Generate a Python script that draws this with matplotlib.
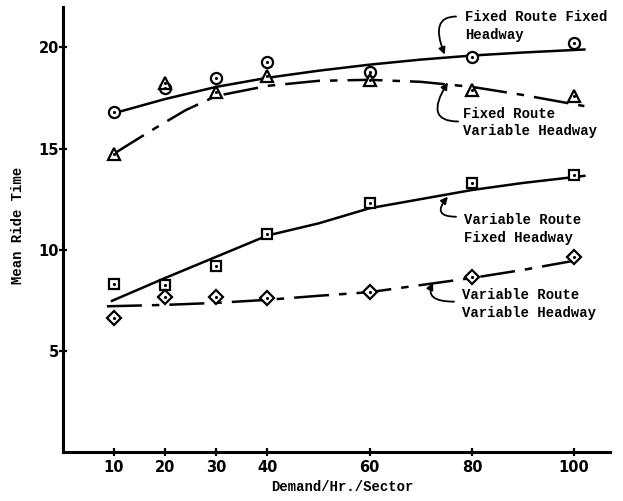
import matplotlib.pyplot as plt

# measured points
demand = [10, 20, 30, 40, 60, 80, 100]
frfh_pts = [16.8, 18.0, 18.5, 19.3, 18.8, 19.55, 20.2]
frvh_pts = [14.75, 18.25, 17.8, 18.6, 18.4, 17.9, 17.6]
vrfh_pts = [8.3, 8.27, 9.2, 10.8, 12.3, 13.3, 13.7]
vrvh_pts = [6.63, 7.67, 7.67, 7.6, 7.9, 8.65, 9.65]

# hand-drawn fitted curves
frfh_x = [10, 20, 30, 40, 50, 60, 70, 80, 90, 102]
frfh_y = [16.75, 17.45, 18.05, 18.5, 18.85, 19.15, 19.4, 19.6, 19.75, 19.9]
frvh_x = [10, 17, 24, 30, 40, 50, 60, 70, 80, 90, 102]
frvh_y = [14.75, 15.85, 16.9, 17.6, 18.1, 18.35, 18.4, 18.3, 18.05, 17.65, 17.1]
vrfh_x = [9.6, 20, 30, 40, 50, 60, 70, 80, 90, 102]
vrfh_y = [7.47, 8.6, 9.65, 10.7, 11.3, 12.05, 12.5, 12.95, 13.3, 13.65]
vrvh_x = [8.6, 20, 30, 40, 50, 60, 70, 80, 90, 101]
vrvh_y = [7.2, 7.27, 7.37, 7.52, 7.72, 7.9, 8.25, 8.6, 9.0, 9.5]

# curve labels: text, text anchor (left/center), arrow tail, arrow tip, tip-line angle
curve_labels = [
    ("Fixed Route Fixed\nHeadway", (78.6, 21.06), (76.9, 21.53), (74.7, 19.65), -68),
    ("Fixed Route\nVariable Headway", (78.2, 16.29), (77.3, 16.34), (75.3, 18.27), 58),
    ("Variable Route\nFixed Headway", (78.4, 11.04), (76.9, 11.63), (75.3, 12.62), 50),
    ("Variable Route\nVariable Headway", (78.0, 7.33), (76.5, 7.43), (72.4, 8.37), 65),
]

x_ticks = [10, 20, 30, 40, 60, 80, 100]
y_ticks = [5, 10, 15, 20]

FONT = "Liberation Mono"

fig = plt.figure(figsize=(6.23, 5.01), dpi=100)
ax = fig.add_axes([0.101, 0.098, 0.878, 0.888])

dashdot = (0, (14, 4, 3, 4))
ax.plot(frfh_x, frfh_y, color="black", lw=1.8)
ax.plot(frvh_x, frvh_y, color="black", lw=1.8, linestyle=dashdot)
ax.plot(vrfh_x, vrfh_y, color="black", lw=1.8)
ax.plot(vrvh_x, vrvh_y, color="black", lw=1.8, linestyle=dashdot)

for vals, mk, ms in [
    (frfh_pts, "o", 8),
    (frvh_pts, "^", 9),
    (vrfh_pts, "s", 7.5),
    (vrvh_pts, "D", 7.5),
]:
    ax.plot(demand, vals, linestyle="none", marker=mk, markersize=ms,
            markerfacecolor="white", markeredgecolor="black", markeredgewidth=1.6, zorder=3)
    ax.plot(demand, vals, linestyle="none", marker=".", markersize=2.5,
            color="black", zorder=4)

for text, pos, tail, tip, ang in curve_labels:
    ax.text(pos[0], pos[1], text, fontsize=10, fontweight="bold", family=FONT,
            ha="left", va="center", linespacing=1.35)
    ax.annotate("", xy=tip, xytext=tail,
                arrowprops=dict(arrowstyle="-|>", color="black", lw=1.3,
                                mutation_scale=10, shrinkA=0, shrinkB=0,
                                connectionstyle=f"angle3,angleA=180,angleB={ang}"))

ax.set_xlim(0, 107)
ax.set_ylim(0, 22)
ax.set_xticks(x_ticks)
ax.set_yticks(y_ticks)
ax.tick_params(direction="inout", length=6, width=1.6, labelsize=10.5)
ax.tick_params(axis="y", pad=0)
ax.tick_params(axis="x", pad=3)
for lab in ax.get_xticklabels() + ax.get_yticklabels():
    lab.set_fontweight("bold")

for side in ("top", "right"):
    ax.spines[side].set_visible(False)
for side in ("left", "bottom"):
    ax.spines[side].set_linewidth(2.2)

fig.text(342 / 623, 1 - 487 / 501, "Demand/Hr./Sector", family=FONT,
         fontweight="bold", fontsize=10, ha="center", va="center")
fig.text(18 / 623, 1 - 225 / 501, "Mean Ride Time", family=FONT,
         fontweight="bold", fontsize=10, ha="center", va="center", rotation=90)

fig.savefig("out.png", dpi=100)
